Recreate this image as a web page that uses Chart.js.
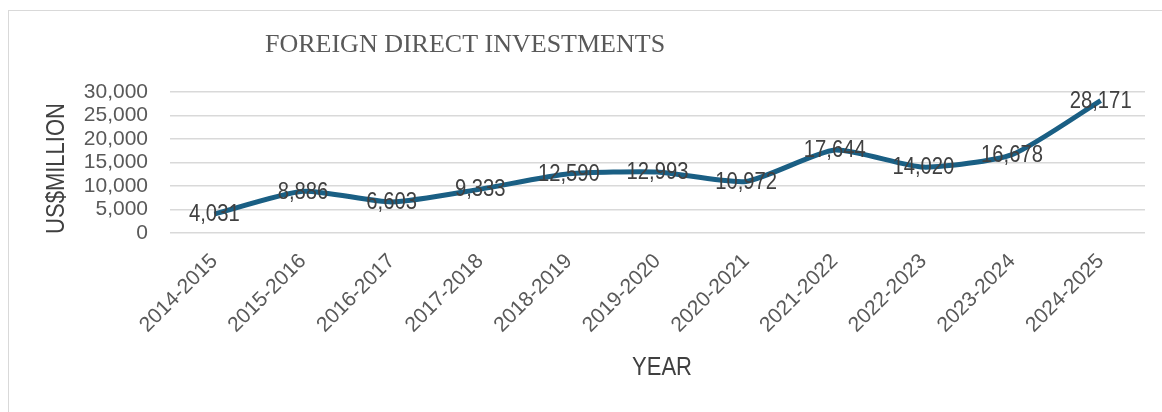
<!DOCTYPE html>
<html>
<head>
<meta charset="utf-8">
<script src="https://cdn.jsdelivr.net/npm/chart.js@4"></script>
<style>
    html, body { margin: 0; padding: 0; background: #fff; overflow: hidden; }
    #wrap { position: relative; width: 1162px; height: 412px; }
    #frame { position: absolute; left: 8px; top: 10px; width: 1200px; height: 450px; border: 1.5px solid #d9d9d9; box-sizing: border-box; }
    #chartCanvas { position: absolute; left: 0; top: 0; }
</style>
</head>
<body>
<div id="wrap">
    <div id="frame"></div>
    <canvas id="chartCanvas" width="1162" height="412"></canvas>
</div>
<script>
    var years = ["2014-2015", "2015-2016", "2016-2017", "2017-2018", "2018-2019", "2019-2020",
        "2020-2021", "2021-2022", "2022-2023", "2023-2024", "2024-2025"];
    var fdiValues = [4031, 8886, 6603, 9333, 12590, 12993, 10972, 17644, 14020, 16678, 28171];
    var yTicks = [0, 5000, 10000, 15000, 20000, 25000, 30000];

    var chartTitle = "FOREIGN DIRECT INVESTMENTS";
    var yTitle = "US$MILLION";
    var xTitle = "YEAR";

    var sansFont = "'Liberation Sans', Arial, sans-serif";
    var narrow = 0.88; // the source text is a bit condensed

    function formatNumber(v) {
        return v.toLocaleString("en-US");
    }

    function narrowText(ctx, text, x, y) {
        ctx.save();
        ctx.translate(x, y);
        ctx.scale(narrow, 1);
        ctx.fillText(text, 0, 0);
        ctx.restore();
    }

    // value labels centred on each point, plus the titles
    var labelPlugin = {
        id: "labelPlugin",
        afterDatasetsDraw: function (chart) {
            var ctx = chart.ctx;
            var meta = chart.getDatasetMeta(0);
            ctx.save();
            ctx.font = "23px " + sansFont;
            ctx.fillStyle = "#404040";
            ctx.textAlign = "center";
            ctx.textBaseline = "middle";
            for (var i = 0; i < meta.data.length; i++) {
                var pt = meta.data[i];
                narrowText(ctx, formatNumber(fdiValues[i]), pt.x, pt.y + 1);
            }
            ctx.restore();
        },
        afterDraw: function (chart) {
            var ctx = chart.ctx;
            var area = chart.chartArea;
            ctx.save();
            ctx.fillStyle = "#595959";
            ctx.font = "26px 'Liberation Serif', 'Times New Roman', serif";
            ctx.textAlign = "left";
            ctx.textBaseline = "alphabetic";
            ctx.fillText(chartTitle, area.left + 95, 52);

            ctx.fillStyle = "#404040";
            ctx.font = "25px " + sansFont;
            ctx.textAlign = "center";
            ctx.textBaseline = "middle";
            narrowText(ctx, xTitle, area.left + 492, 368);

            ctx.translate(57, (area.top + area.bottom) / 2 + 6);
            ctx.rotate(-Math.PI / 2);
            narrowText(ctx, yTitle, 0, 0);
            ctx.restore();
        }
    };

    var ctx = document.getElementById("chartCanvas").getContext("2d");
    new Chart(ctx, {
        type: "line",
        data: {
            labels: years,
            datasets: [{
                label: chartTitle,
                data: fdiValues,
                borderColor: "#1a5f84",
                borderWidth: 5,
                pointRadius: 0,
                pointHoverRadius: 0,
                tension: 0.2,
                fill: false
            }]
        },
        options: {
            responsive: false,
            animation: false,
            devicePixelRatio: 1,
            layout: {
                padding: { left: 70, right: 17, top: 92, bottom: 0 }
            },
            plugins: {
                legend: { display: false },
                title: { display: false },
                tooltip: { enabled: false }
            },
            scales: {
                x: {
                    offset: true,
                    grid: { display: false },
                    border: { display: false },
                    ticks: {
                        color: "#595959",
                        font: { family: sansFont, size: 21 },
                        minRotation: 45,
                        maxRotation: 45,
                        autoSkip: false,
                        padding: 8
                    },
                    afterFit: function (scale) {
                        scale.height = 179;
                    }
                },
                y: {
                    min: 0,
                    max: 30000,
                    grid: {
                        color: "#d9d9d9",
                        lineWidth: 1.5,
                        drawTicks: false
                    },
                    border: { display: false },
                    afterBuildTicks: function (scale) {
                        scale.ticks = yTicks.map(function (v) { return { value: v }; });
                    },
                    ticks: {
                        color: "#595959",
                        font: { family: sansFont, size: 21, lineHeight: 1 },
                        autoSkip: false,
                        padding: 22,
                        callback: function (v) { return formatNumber(v); }
                    },
                    afterFit: function (scale) {
                        scale.width = 100;
                    }
                }
            }
        },
        plugins: [labelPlugin]
    });
</script>
</body>
</html>
